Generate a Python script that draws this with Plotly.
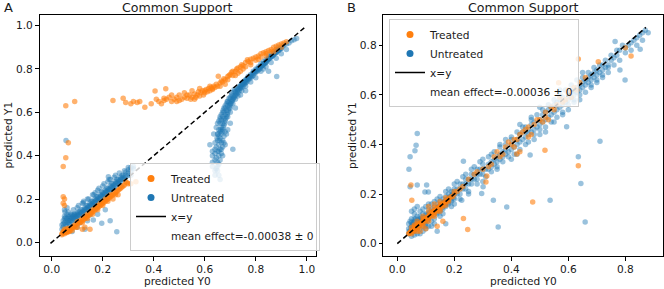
import plotly.graph_objects as go

# ---------------- data ----------------
A_TREATED = [
    (0.04,0.04),(0.045,0.045),(0.05,0.04),(0.05,0.05),(0.055,0.045),(0.06,0.05),(0.06,0.055),(0.065,0.05),
    (0.07,0.06),(0.07,0.055),(0.075,0.06),(0.08,0.065),(0.08,0.07),(0.085,0.07),(0.09,0.075),(0.045,0.05),
    (0.05,0.06),(0.055,0.055),(0.065,0.065),(0.04,0.035),(0.05,0.045),(0.06,0.045),(0.07,0.05),(0.058,0.062),
    (0.1,0.085),(0.1,0.095),(0.11,0.1),(0.12,0.1),(0.12,0.11),(0.13,0.11),(0.13,0.12),(0.14,0.12),(0.14,0.13),
    (0.15,0.13),(0.15,0.14),(0.16,0.14),(0.16,0.15),(0.17,0.15),(0.17,0.16),(0.18,0.16),(0.18,0.17),(0.19,0.17),
    (0.19,0.18),(0.2,0.18),(0.2,0.19),(0.21,0.19),(0.21,0.2),(0.22,0.2),(0.22,0.21),(0.23,0.21),(0.23,0.22),
    (0.24,0.22),(0.25,0.23),(0.25,0.22),(0.26,0.24),(0.27,0.25),(0.28,0.26),(0.3,0.27),(0.31,0.27),(0.33,0.28),
    (0.29,0.28),(0.26,0.22),(0.24,0.2),(0.22,0.19),(0.2,0.17),(0.18,0.15),(0.16,0.13),(0.14,0.11),(0.12,0.09),
    (0.11,0.09),(0.09,0.08),(0.095,0.07),(0.13,0.07),(0.15,0.06),(0.12,0.06),(0.1,0.07),(0.08,0.055),
    (0.105,0.09),(0.115,0.095),(0.125,0.105),(0.135,0.115),(0.145,0.125),(0.155,0.135),(0.165,0.145),
    (0.175,0.155),(0.185,0.165),(0.195,0.175),(0.205,0.185),(0.215,0.195),(0.225,0.205),(0.235,0.215),
    (0.245,0.225),(0.255,0.235),(0.265,0.245),(0.275,0.255),(0.285,0.265),(0.295,0.275),
    (0.055,0.63),(0.09,0.65),(0.045,0.35),(0.055,0.39),(0.065,0.46),(0.045,0.21),(0.05,0.2),(0.045,0.18),(0.05,0.17),
    (0.24,0.655),(0.28,0.665),(0.29,0.645),(0.31,0.64),(0.32,0.65),(0.335,0.645),(0.345,0.65),(0.365,0.623),
    (0.39,0.64),(0.405,0.698),(0.41,0.66),(0.42,0.65),(0.43,0.64),(0.44,0.655),(0.447,0.709),(0.45,0.66),
    (0.46,0.67),(0.47,0.65),(0.48,0.66),(0.49,0.67),(0.5,0.655),(0.5,0.68),(0.51,0.66),(0.52,0.67),(0.53,0.665),
    (0.54,0.68),(0.545,0.66),(0.55,0.67),(0.56,0.685),(0.565,0.67),(0.57,0.68),(0.575,0.695),(0.58,0.675),
    (0.585,0.69),(0.59,0.7),(0.595,0.68),(0.6,0.69),(0.605,0.705),(0.61,0.695),(0.615,0.71),(0.62,0.7),
    (0.625,0.715),(0.63,0.705),(0.635,0.72),(0.64,0.715),(0.645,0.73),(0.65,0.72),(0.653,0.766),(0.66,0.735),
    (0.665,0.745),(0.67,0.74),(0.675,0.755),(0.68,0.75),(0.69,0.765),(0.695,0.77),(0.7,0.775),(0.705,0.785),
    (0.71,0.79),(0.72,0.79),(0.725,0.8),(0.73,0.805),(0.74,0.81),(0.745,0.82),(0.75,0.815),(0.76,0.83),
    (0.767,0.842),(0.77,0.835),(0.78,0.845),(0.79,0.85),(0.8,0.855),(0.81,0.86),(0.82,0.87),(0.83,0.875),
    (0.84,0.88),(0.85,0.885),(0.86,0.89),(0.87,0.9),(0.88,0.905),(0.89,0.91),(0.9,0.915),(0.91,0.92),
    (0.74,0.79),(0.76,0.81),(0.78,0.83),(0.8,0.84),(0.82,0.855),(0.84,0.87),(0.86,0.88),(0.88,0.89),
    (0.55,0.7),(0.52,0.69),(0.47,0.68),(0.62,0.72),(0.58,0.71),(0.68,0.73),(0.71,0.77),(0.73,0.78),
    (0.56,0.66),(0.6,0.7),(0.63,0.71),(0.66,0.72),(0.69,0.75),(0.72,0.77),(0.75,0.8),(0.78,0.82),
    (0.81,0.845),(0.84,0.86),(0.87,0.88),(0.9,0.9),(0.92,0.925),(0.53,0.68),(0.49,0.65),(0.44,0.665),
]

A_UNTREATED = [
    (0.04,0.06),(0.04,0.08),(0.045,0.1),(0.045,0.07),(0.05,0.09),(0.05,0.11),(0.05,0.12),(0.055,0.08),
    (0.055,0.1),(0.06,0.09),(0.06,0.11),(0.06,0.13),(0.065,0.1),(0.065,0.12),(0.07,0.1),(0.07,0.11),
    (0.07,0.12),(0.075,0.11),(0.075,0.13),(0.08,0.1),(0.08,0.115),(0.08,0.125),(0.085,0.11),(0.085,0.12),
    (0.09,0.115),(0.09,0.125),(0.09,0.13),(0.095,0.12),(0.1,0.12),(0.1,0.13),(0.1,0.135),(0.105,0.125),
    (0.11,0.13),(0.11,0.14),(0.115,0.135),(0.12,0.14),(0.12,0.15),(0.125,0.145),(0.13,0.15),(0.13,0.16),
    (0.135,0.155),(0.14,0.16),(0.14,0.17),(0.145,0.165),(0.15,0.17),(0.15,0.18),(0.155,0.175),(0.16,0.18),
    (0.16,0.19),(0.165,0.185),(0.17,0.19),(0.17,0.2),(0.175,0.195),(0.18,0.2),(0.18,0.21),(0.185,0.205),
    (0.19,0.21),(0.19,0.22),(0.195,0.215),(0.2,0.22),(0.2,0.23),(0.205,0.225),(0.21,0.23),(0.21,0.24),
    (0.215,0.235),(0.22,0.24),(0.22,0.25),(0.225,0.245),(0.23,0.25),(0.23,0.26),(0.235,0.255),(0.24,0.26),
    (0.24,0.27),(0.245,0.265),(0.25,0.27),(0.25,0.28),(0.255,0.275),(0.26,0.28),(0.26,0.29),(0.265,0.285),
    (0.27,0.29),(0.27,0.3),(0.275,0.295),(0.28,0.3),(0.28,0.31),(0.29,0.31),(0.3,0.32),(0.31,0.33),
    (0.32,0.34),(0.2,0.26),(0.18,0.24),(0.16,0.22),(0.23,0.29),(0.25,0.31),(0.22,0.28),(0.3,0.345),
    (0.14,0.2),(0.12,0.18),(0.1,0.16),(0.045,0.085),(0.055,0.115),(0.065,0.09),(0.075,0.1),(0.085,0.13),
    (0.095,0.11),(0.105,0.14),(0.115,0.15),(0.125,0.135),(0.135,0.17),(0.145,0.15),(0.155,0.19),(0.165,0.17),
    (0.175,0.21),(0.185,0.19),(0.195,0.235),(0.205,0.21),(0.215,0.25),(0.225,0.23),(0.235,0.27),(0.245,0.25),
    (0.255,0.29),(0.265,0.27),(0.275,0.31),(0.285,0.29),(0.29,0.325),(0.31,0.31),
    (0.06,0.075),(0.07,0.085),(0.08,0.09),(0.09,0.105),(0.1,0.11),(0.11,0.12),(0.12,0.13),(0.13,0.14),
    (0.14,0.15),(0.15,0.16),(0.16,0.17),(0.17,0.18),(0.18,0.19),(0.19,0.2),(0.2,0.21),(0.21,0.22),
    (0.22,0.23),(0.23,0.24),(0.24,0.25),(0.25,0.26),(0.26,0.27),(0.27,0.28),(0.28,0.29),(0.29,0.3),
    (0.3,0.31),(0.065,0.14),(0.085,0.15),(0.105,0.17),(0.125,0.19),(0.145,0.2),(0.165,0.22),(0.185,0.25),
    (0.205,0.27),(0.225,0.29),(0.245,0.3),(0.265,0.32),(0.285,0.33),(0.3,0.335),(0.31,0.345),(0.32,0.35),
    (0.056,0.47),(0.052,0.14),(0.05,0.15),(0.06,0.16),(0.15,0.126),(0.163,0.103),(0.196,0.088),(0.229,0.1),
    (0.255,0.049),(0.124,0.183),(0.17,0.229),(0.222,0.303),(0.13,0.06),(0.1,0.07),(0.08,0.05),(0.11,0.09),
    (0.14,0.1),(0.18,0.13),(0.21,0.15),
    (0.66,0.29),(0.64,0.33),(0.645,0.34),(0.65,0.35),(0.655,0.36),(0.63,0.37),(0.64,0.38),(0.65,0.37),
    (0.66,0.38),(0.645,0.39),(0.655,0.4),(0.665,0.41),(0.63,0.42),(0.64,0.41),(0.65,0.42),(0.66,0.43),
    (0.62,0.45),(0.71,0.43),(0.67,0.44),(0.645,0.44),(0.655,0.45),(0.665,0.46),(0.65,0.47),(0.66,0.48),
    (0.67,0.47),(0.655,0.49),(0.665,0.5),(0.675,0.49),(0.65,0.5),(0.66,0.51),(0.67,0.52),(0.68,0.51),
    (0.655,0.52),(0.665,0.53),(0.675,0.54),(0.66,0.55),(0.67,0.55),(0.68,0.56),(0.665,0.565),(0.675,0.57),
    (0.685,0.58),(0.67,0.58),(0.68,0.59),(0.69,0.6),(0.675,0.6),(0.685,0.61),(0.695,0.62),(0.68,0.62),
    (0.69,0.63),(0.7,0.64),(0.695,0.645),(0.705,0.65),(0.71,0.66),(0.7,0.66),(0.715,0.67),(0.72,0.68),
    (0.71,0.675),(0.725,0.685),(0.73,0.69),(0.72,0.695),(0.735,0.7),(0.74,0.71),(0.73,0.705),(0.745,0.715),
    (0.75,0.72),(0.74,0.72),(0.755,0.73),(0.76,0.735),(0.75,0.74),(0.765,0.74),(0.77,0.75),(0.76,0.75),
    (0.775,0.755),(0.78,0.76),(0.77,0.765),(0.785,0.765),(0.79,0.77),(0.78,0.775),(0.795,0.78),(0.8,0.785),
    (0.79,0.79),(0.805,0.79),(0.81,0.795),(0.8,0.8),(0.815,0.8),(0.82,0.81),(0.81,0.81),(0.825,0.815),
    (0.83,0.82),(0.82,0.825),(0.835,0.825),(0.84,0.83),(0.83,0.835),(0.845,0.84),(0.85,0.845),(0.84,0.845),
    (0.855,0.85),(0.86,0.855),(0.85,0.86),(0.865,0.86),(0.87,0.865),(0.86,0.87),(0.875,0.875),(0.88,0.875),
    (0.87,0.88),(0.885,0.885),(0.89,0.885),(0.88,0.89),(0.895,0.895),(0.9,0.895),(0.89,0.9),(0.905,0.905),
    (0.91,0.91),(0.92,0.915),(0.93,0.92),(0.94,0.93),(0.95,0.935),(0.96,0.94),
    (0.645,0.53),(0.655,0.56),(0.66,0.58),(0.67,0.6),(0.675,0.62),(0.685,0.64),(0.69,0.65),(0.7,0.67),
    (0.705,0.68),(0.715,0.695),(0.725,0.71),(0.735,0.72),(0.745,0.73),(0.755,0.745),(0.765,0.755),
    (0.69,0.58),(0.7,0.62),(0.71,0.64),(0.72,0.66),(0.73,0.675),(0.745,0.7),(0.76,0.72),(0.78,0.74),
    (0.8,0.76),(0.82,0.79),(0.84,0.81),(0.86,0.83),(0.88,0.85),(0.9,0.87),(0.92,0.89),
    (0.882,0.765),(0.85,0.79),(0.83,0.8),(0.76,0.7),(0.74,0.68),(0.72,0.62),(0.7,0.6),(0.68,0.45),
    (0.64,0.46),(0.635,0.5),(0.63,0.35),(0.64,0.31),
    (0.648,0.48),(0.652,0.5),(0.658,0.47),(0.662,0.52),(0.668,0.51),(0.672,0.53),(0.678,0.55),(0.682,0.57),
    (0.688,0.59),(0.692,0.61),(0.698,0.63),(0.703,0.64),(0.708,0.655),(0.712,0.665),(0.718,0.675),(0.722,0.69),
    (0.728,0.7),(0.732,0.71),(0.738,0.715),(0.742,0.725),(0.748,0.73),(0.752,0.735),(0.758,0.74),(0.762,0.745),
    (0.768,0.755),(0.772,0.76),(0.778,0.765),(0.782,0.77),(0.788,0.78),(0.792,0.785),(0.798,0.79),(0.802,0.795),
    (0.808,0.8),(0.812,0.805),(0.818,0.81),(0.822,0.815),(0.828,0.82),(0.832,0.825),(0.838,0.83),(0.842,0.835),
    (0.848,0.845),(0.852,0.85),(0.858,0.855),(0.862,0.86),(0.868,0.865),(0.872,0.87),(0.878,0.875),(0.882,0.88),
    (0.888,0.885),(0.892,0.89),(0.898,0.895),(0.65,0.55),(0.66,0.57),(0.665,0.59),(0.672,0.61),(0.68,0.63),
    (0.688,0.65),(0.695,0.665),(0.705,0.69),(0.715,0.705),(0.7,0.55),(0.69,0.52),(0.685,0.5),(0.675,0.46),
    (0.665,0.43),(0.655,0.42),(0.67,0.4),(0.64,0.43),(0.63,0.4),(0.65,0.33),(0.655,0.31),
]

B_TREATED = [
    (0.04,0.04),(0.045,0.045),(0.05,0.05),(0.05,0.04),(0.055,0.055),(0.06,0.06),(0.06,0.05),(0.065,0.065),
    (0.07,0.07),(0.07,0.06),(0.075,0.075),(0.08,0.08),(0.08,0.07),(0.085,0.085),(0.09,0.09),(0.09,0.08),
    (0.095,0.095),(0.1,0.1),(0.1,0.09),(0.105,0.105),(0.11,0.11),(0.11,0.1),(0.115,0.115),(0.12,0.12),
    (0.12,0.11),(0.125,0.125),(0.13,0.13),(0.13,0.12),(0.135,0.135),(0.14,0.14),(0.14,0.13),(0.145,0.145),
    (0.15,0.15),(0.15,0.14),(0.155,0.155),(0.16,0.16),(0.16,0.15),(0.17,0.17),(0.18,0.18),(0.19,0.19),
    (0.2,0.2),(0.21,0.21),(0.22,0.22),(0.23,0.23),(0.08,0.05),(0.1,0.06),(0.13,0.16),(0.11,0.15),
    (0.16,0.09),(0.14,0.07),(0.3,0.3),(0.33,0.32),(0.36,0.35),(0.38,0.39),(0.4,0.4),(0.41,0.39),
    (0.42,0.42),(0.43,0.37),(0.44,0.45),(0.46,0.47),(0.47,0.44),(0.48,0.48),(0.5,0.5),(0.51,0.49),
    (0.52,0.53),(0.53,0.5),(0.54,0.55),(0.55,0.54),(0.56,0.56),(0.58,0.57),(0.6,0.61),(0.61,0.59),
    (0.62,0.63),(0.64,0.65),(0.66,0.67),(0.6,0.62),(0.46,0.43),(0.35,0.37),(0.27,0.28),(0.25,0.26),
    (0.048,0.236),(0.051,0.175),(0.232,0.101),(0.247,0.057),(0.314,0.273),(0.311,0.248),(0.419,0.361),
    (0.518,0.377),(0.475,0.168),(0.635,0.314),(0.635,0.745),(0.82,0.757),(0.8,0.79),(0.705,0.733),
    (0.566,0.649),(0.06,0.07),(0.07,0.08),(0.09,0.1),(0.12,0.13),(0.15,0.16),(0.18,0.17),(0.2,0.21),
    (0.042,0.042),(0.048,0.05),(0.052,0.048),(0.058,0.056),(0.062,0.064),(0.068,0.066),(0.072,0.074),
    (0.078,0.076),(0.082,0.084),(0.088,0.086),(0.092,0.094),(0.098,0.096),(0.102,0.104),(0.108,0.106),
    (0.112,0.114),(0.118,0.116),(0.122,0.124),(0.128,0.126),(0.132,0.134),(0.138,0.136),(0.142,0.144),
    (0.148,0.146),(0.152,0.154),(0.158,0.156),(0.162,0.164),(0.168,0.166),(0.172,0.174),(0.178,0.176),
    (0.185,0.185),(0.195,0.19),(0.05,0.065),(0.06,0.075),(0.07,0.09),(0.09,0.11),(0.11,0.13),(0.13,0.145),
    (0.15,0.17),(0.17,0.185),(0.07,0.05),(0.09,0.07),(0.11,0.09),(0.13,0.11),(0.15,0.13),(0.17,0.155),
    (0.28,0.29),(0.32,0.31),(0.34,0.35),(0.37,0.36),(0.39,0.41),(0.45,0.46),(0.49,0.5),(0.52,0.51),
    (0.57,0.59),(0.59,0.58),(0.63,0.62),(0.43,0.44),(0.41,0.42),
]

B_UNTREATED = [
    (0.04,0.04),(0.04,0.06),(0.04,0.08),(0.045,0.05),(0.045,0.09),(0.05,0.045),(0.05,0.07),(0.05,0.1),
    (0.055,0.06),(0.055,0.08),(0.06,0.05),(0.06,0.07),(0.06,0.09),(0.06,0.12),(0.065,0.065),(0.065,0.1),
    (0.07,0.06),(0.07,0.08),(0.07,0.11),(0.075,0.07),(0.075,0.09),(0.08,0.06),(0.08,0.08),(0.08,0.1),
    (0.08,0.13),(0.085,0.09),(0.09,0.07),(0.09,0.1),(0.09,0.12),(0.095,0.085),(0.1,0.08),(0.1,0.1),
    (0.1,0.12),(0.1,0.15),(0.105,0.09),(0.11,0.1),(0.11,0.12),(0.11,0.14),(0.115,0.11),(0.12,0.09),
    (0.12,0.12),(0.12,0.14),(0.125,0.13),(0.13,0.1),(0.13,0.13),(0.13,0.15),(0.135,0.14),(0.14,0.12),
    (0.14,0.14),(0.14,0.16),(0.145,0.15),(0.15,0.13),(0.15,0.15),(0.15,0.17),(0.155,0.16),(0.16,0.14),
    (0.16,0.16),(0.16,0.18),(0.165,0.17),(0.17,0.15),(0.17,0.17),(0.17,0.19),(0.175,0.18),(0.18,0.16),
    (0.18,0.18),(0.18,0.2),(0.185,0.19),(0.19,0.17),(0.19,0.19),(0.19,0.21),(0.195,0.2),(0.2,0.18),
    (0.2,0.2),(0.2,0.22),(0.21,0.2),(0.21,0.22),(0.22,0.2),(0.22,0.22),(0.22,0.24),(0.23,0.22),
    (0.23,0.24),(0.24,0.22),(0.24,0.24),(0.24,0.26),(0.25,0.24),(0.25,0.26),(0.26,0.24),(0.26,0.26),
    (0.26,0.28),(0.27,0.26),(0.27,0.28),(0.28,0.26),(0.28,0.28),(0.28,0.3),(0.29,0.28),(0.29,0.3),
    (0.3,0.28),(0.3,0.3),(0.3,0.32),(0.31,0.3),(0.32,0.3),(0.32,0.32),(0.33,0.31),(0.33,0.33),
    (0.34,0.32),(0.34,0.34),(0.35,0.33),(0.35,0.35),(0.36,0.34),(0.36,0.36),(0.37,0.35),(0.37,0.37),
    (0.38,0.36),(0.38,0.38),(0.39,0.37),(0.4,0.38),(0.4,0.4),(0.4,0.42),(0.41,0.39),(0.42,0.4),
    (0.42,0.42),(0.43,0.41),(0.43,0.44),(0.44,0.42),(0.44,0.45),(0.45,0.43),(0.45,0.47),(0.46,0.44),
    (0.46,0.46),(0.47,0.45),(0.47,0.48),(0.48,0.46),(0.48,0.49),(0.49,0.47),(0.5,0.48),(0.5,0.5),
    (0.51,0.49),(0.51,0.52),(0.52,0.5),(0.52,0.53),(0.53,0.51),(0.53,0.54),(0.54,0.52),(0.54,0.55),
    (0.55,0.53),(0.55,0.56),(0.56,0.54),(0.56,0.57),(0.57,0.55),(0.57,0.58),(0.58,0.56),(0.58,0.59),
    (0.59,0.57),(0.6,0.58),(0.6,0.6),(0.61,0.59),(0.61,0.61),(0.62,0.6),(0.62,0.62),(0.63,0.61),
    (0.63,0.63),(0.64,0.62),(0.64,0.64),(0.65,0.63),(0.65,0.65),(0.66,0.64),(0.66,0.66),(0.67,0.65),
    (0.67,0.67),(0.68,0.66),(0.68,0.68),(0.69,0.67),(0.69,0.69),(0.7,0.68),(0.7,0.7),(0.71,0.69),
    (0.72,0.7),(0.72,0.72),(0.73,0.71),(0.74,0.72),(0.75,0.74),(0.76,0.75),(0.77,0.76),(0.78,0.78),
    (0.8,0.79),(0.82,0.81),(0.84,0.83),(0.86,0.85),(0.7,0.65),(0.68,0.63),(0.62,0.57),(0.55,0.49),
    (0.5,0.44),(0.45,0.4),(0.4,0.34),(0.35,0.3),(0.3,0.25),(0.43,0.48),(0.38,0.42),(0.33,0.36),
    (0.5,0.55),(0.57,0.62),(0.65,0.69),(0.72,0.67),(0.74,0.69),(0.6,0.54),(0.48,0.42),(0.25,0.2),
    (0.2,0.16),(0.15,0.11),(0.12,0.07),(0.1,0.06),(0.08,0.04),(0.17,0.08),(0.14,0.05),
    (0.05,0.085),(0.06,0.1),(0.07,0.04),(0.08,0.11),(0.09,0.14),(0.1,0.07),(0.11,0.16),(0.12,0.16),
    (0.13,0.08),(0.14,0.18),(0.15,0.19),(0.16,0.12),(0.17,0.21),(0.18,0.22),(0.19,0.15),(0.2,0.24),
    (0.21,0.25),(0.22,0.18),(0.23,0.27),(0.24,0.28),(0.25,0.21),(0.26,0.3),(0.27,0.31),(0.28,0.24),
    (0.29,0.33),(0.3,0.34),(0.31,0.27),(0.32,0.35),(0.33,0.29),(0.34,0.37),(0.35,0.31),(0.36,0.39),
    (0.37,0.33),(0.38,0.4),(0.39,0.35),(0.4,0.43),(0.41,0.36),(0.42,0.45),(0.43,0.38),(0.44,0.47),
    (0.45,0.45),(0.46,0.41),(0.47,0.5),(0.48,0.44),(0.49,0.52),(0.5,0.46),(0.51,0.54),(0.52,0.47),
    (0.53,0.56),(0.54,0.49),(0.55,0.58),(0.56,0.51),(0.57,0.6),(0.58,0.53),(0.59,0.62),(0.6,0.56),
    (0.61,0.64),(0.62,0.58),(0.63,0.66),(0.64,0.6),(0.65,0.67),(0.66,0.61),(0.67,0.69),(0.68,0.64),
    (0.69,0.71),(0.7,0.66),(0.71,0.72),(0.72,0.68),(0.73,0.74),(0.74,0.71),(0.75,0.76),(0.76,0.72),
    (0.77,0.78),(0.78,0.74),(0.79,0.8),(0.8,0.77),(0.81,0.8),(0.82,0.78),(0.83,0.82),(0.84,0.8),
    (0.85,0.84),(0.86,0.82),(0.87,0.86),(0.88,0.85),
    (0.042,0.05),(0.048,0.065),(0.052,0.075),(0.058,0.085),(0.062,0.06),(0.068,0.075),(0.072,0.095),
    (0.078,0.085),(0.082,0.095),(0.088,0.105),(0.092,0.09),(0.098,0.105),(0.102,0.115),(0.108,0.105),
    (0.112,0.125),(0.118,0.115),(0.122,0.125),(0.128,0.115),(0.132,0.135),(0.138,0.125),(0.142,0.145),
    (0.148,0.135),(0.152,0.155),(0.158,0.145),(0.162,0.165),(0.168,0.155),(0.172,0.175),(0.178,0.165),
    (0.182,0.185),(0.188,0.175),(0.192,0.195),(0.198,0.185),(0.05,0.13),(0.06,0.14),(0.07,0.15),
    (0.09,0.05),(0.11,0.07),(0.13,0.17),(0.05,0.03),(0.06,0.035),
    (0.07,0.444),(0.066,0.397),(0.062,0.374),(0.045,0.35),(0.041,0.3),(0.045,0.229),(0.07,0.236),
    (0.103,0.236),(0.097,0.208),(0.109,0.208),(0.196,0.208),(0.226,0.175),(0.232,0.332),(0.296,0.202),
    (0.301,0.229),(0.337,0.175),(0.354,0.067),(0.384,0.148),(0.466,0.357),(0.536,0.175),(0.594,0.471),
    (0.635,0.35),(0.644,0.242),(0.659,0.087),(0.711,0.413),(0.764,0.815),(0.799,0.66),(0.852,0.784),
    (0.781,0.7),(0.42,0.36),(0.52,0.45),(0.58,0.52),(0.64,0.58),(0.47,0.51),(0.36,0.4),
]

LINE_A = [-0.005, 0.995]
LINE_B = [0.0, 0.872]
TICKS_A = [0.0, 0.2, 0.4, 0.6, 0.8, 1.0]
TICKS_B = [0.0, 0.2, 0.4, 0.6, 0.8]
LEG_A = ["Treated", "Untreated", "x=y", "mean effect=-0.00038 ± 0"]
LEG_B = ["Treated", "Untreated", "x=y", "mean effect=-0.00036 ± 0"]
TITLE = "Common Support"

ORANGE = "#ff7f0e"
BLUE = "#1f77b4"
FONT = "DejaVu Sans"
TXT = "#1a1a1a"

fig = go.Figure()


def add_panel(treated, untreated, line, labels, xa, ya, legend):
    fig.add_trace(go.Scatter(x=[p[0] for p in untreated], y=[p[1] for p in untreated], mode="markers",
                             marker=dict(color=BLUE, size=5.5, opacity=0.45, line=dict(width=0)),
                             xaxis=xa, yaxis=ya, showlegend=False, hoverinfo="skip"))
    fig.add_trace(go.Scatter(x=[p[0] for p in treated], y=[p[1] for p in treated], mode="markers",
                             marker=dict(color=ORANGE, size=5.5, opacity=0.6, line=dict(width=0)),
                             xaxis=xa, yaxis=ya, showlegend=False, hoverinfo="skip"))
    fig.add_trace(go.Scatter(x=line, y=line, mode="lines", line=dict(color="black", width=1.5, dash="5px,3px"),
                             xaxis=xa, yaxis=ya, showlegend=False, hoverinfo="skip"))
    # legend entries
    fig.add_trace(go.Scatter(x=[None], y=[None], mode="markers", name=labels[0],
                             marker=dict(color=ORANGE, size=7), xaxis=xa, yaxis=ya, legend=legend))
    fig.add_trace(go.Scatter(x=[None], y=[None], mode="markers", name=labels[1],
                             marker=dict(color=BLUE, size=7), xaxis=xa, yaxis=ya, legend=legend))
    fig.add_trace(go.Scatter(x=[None], y=[None], mode="lines", name=labels[2],
                             line=dict(color="black", width=1.5), xaxis=xa, yaxis=ya, legend=legend))
    fig.add_trace(go.Scatter(x=[None], y=[None], mode="markers", name=labels[3],
                             marker=dict(color="rgba(0,0,0,0)", size=1), xaxis=xa, yaxis=ya, legend=legend))


add_panel(A_TREATED, A_UNTREATED, LINE_A, LEG_A, "x", "y", "legend")
add_panel(B_TREATED, B_UNTREATED, LINE_B, LEG_B, "x2", "y2", "legend2")

W, H = 664, 289
axA = (39.5, 316.0)
axB = (383.3, 663.0)
top, bot = 15.0, 256.0

common = dict(showline=True, linecolor="black", linewidth=1, mirror=True, ticks="outside",
              ticklen=3.5, tickwidth=0.8, tickcolor="black", showgrid=False, zeroline=False,
              tickfont=dict(family=FONT, size=10.6, color=TXT), tickformat=".1f", automargin=False)

leg_common = dict(bgcolor="rgba(255,255,255,0.8)", bordercolor="#cccccc", borderwidth=1,
                  font=dict(family=FONT, size=10.6, color=TXT), xanchor="left",
                  itemwidth=30, tracegroupgap=0, itemsizing="trace")

fig.update_layout(
    width=W, height=H, margin=dict(l=0, r=0, t=0, b=0),
    paper_bgcolor="white", plot_bgcolor="white",
    xaxis=dict(domain=[axA[0] / W, axA[1] / W], range=[-0.048, 1.036], tickvals=TICKS_A, anchor="y", **common),
    yaxis=dict(domain=[1 - bot / H, 1 - top / H], range=[-0.063, 1.049], tickvals=TICKS_A, anchor="x", **common),
    xaxis2=dict(domain=[axB[0] / W, axB[1] / W], range=[-0.049, 0.932], tickvals=TICKS_B, anchor="y2", **common),
    yaxis2=dict(domain=[1 - bot / H, 1 - top / H], range=[-0.05, 0.922], tickvals=TICKS_B, anchor="x2", **common),
    legend=dict(x=130 / W, y=1 - 251 / H, yanchor="bottom", **leg_common),
    legend2=dict(x=389 / W, y=1 - 19 / H, yanchor="top", **leg_common),
)

ann = []
for cx, letter, lx in [((axA[0] + axA[1]) / 2, "A", 2), ((axB[0] + axB[1]) / 2, "B", 345)]:
    ann.append(dict(x=cx / W, y=1 - 7 / H, text=TITLE, showarrow=False, xref="paper", yref="paper",
                    xanchor="center", yanchor="middle", font=dict(family=FONT, size=12.6, color=TXT)))
    ann.append(dict(x=lx / W, y=1 - 8 / H, text=letter, showarrow=False, xref="paper", yref="paper",
                    xanchor="left", yanchor="middle", font=dict(family=FONT, size=13, color=TXT)))
    ann.append(dict(x=cx / W, y=1 - 281 / H, text="predicted Y0", showarrow=False, xref="paper", yref="paper",
                    xanchor="center", yanchor="middle", font=dict(family=FONT, size=10.6, color=TXT)))
for yx in [7, 351.5]:
    ann.append(dict(x=yx / W, y=1 - ((top + bot) / 2) / H, text="predicted Y1", showarrow=False, textangle=-90,
                    xref="paper", yref="paper", xanchor="center", yanchor="middle",
                    font=dict(family=FONT, size=10.6, color=TXT)))
fig.update_layout(annotations=ann)

fig.write_html("out.html", config={"displayModeBar": False},
               post_script="document.body.style.margin='0';document.body.style.overflow='hidden';")
